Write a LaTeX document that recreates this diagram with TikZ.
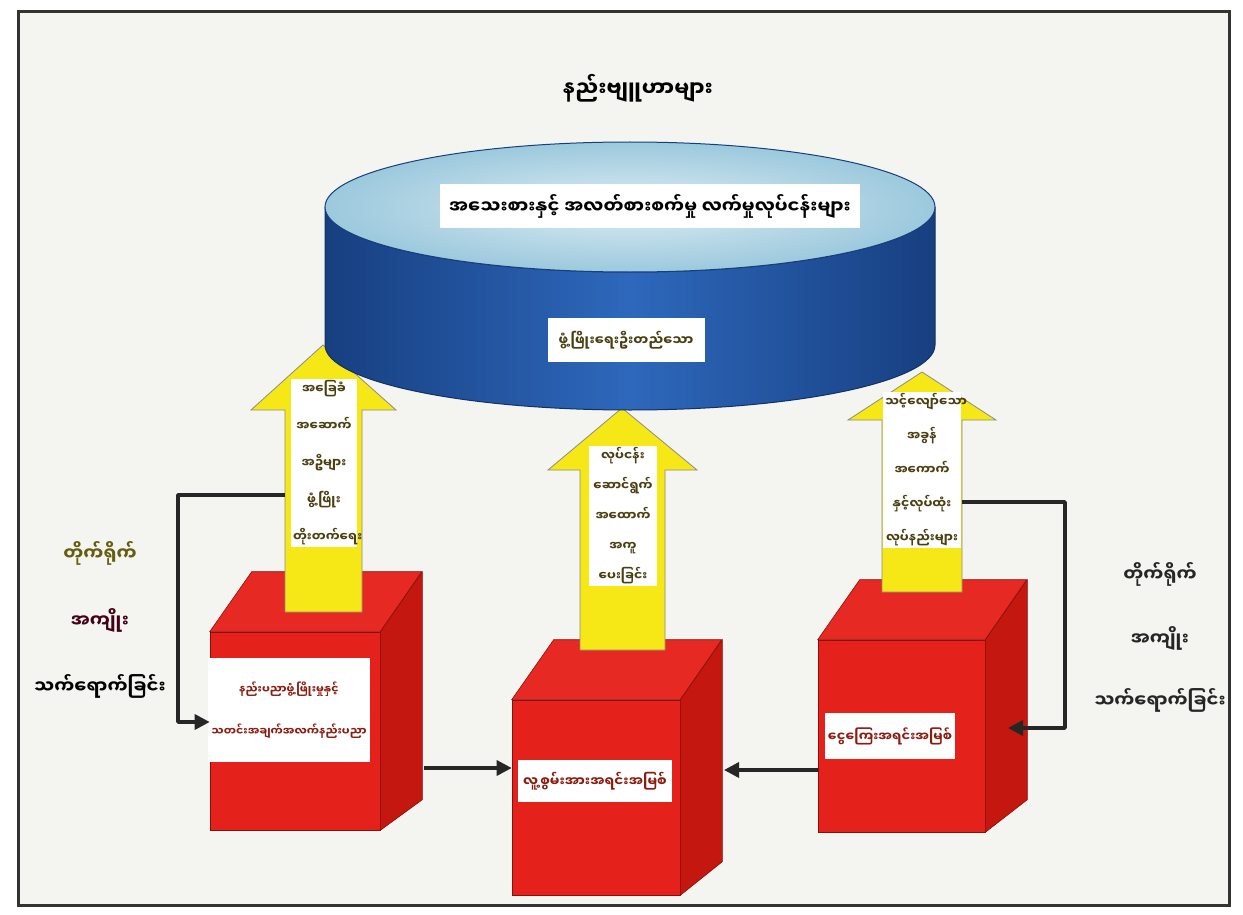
\documentclass[tikz,border=0pt]{standalone}
\usepackage{fontspec}
\newfontfamily\mya[Script=Myanmar]{Noto Sans Myanmar UI}
\usetikzlibrary{arrows.meta}

\definecolor{paper}{HTML}{F4F4F1}
\definecolor{cubered}{HTML}{E5211B}
\definecolor{cubeshade}{HTML}{C4170F}
\definecolor{cubelid}{HTML}{E62A23}
\definecolor{arrowyellow}{HTML}{F6E716}
\definecolor{drumblue}{HTML}{2E68BC}
\definecolor{drumdark}{HTML}{173F80}
\definecolor{drumtop}{HTML}{9CC9DD}
\definecolor{labelred}{HTML}{8A1C10}
\definecolor{olive}{HTML}{4A3F10}

\tikzset{
  cubefront/.style={fill=cubered, draw=cubeshade!70!black, line width=0.6pt, inner sep=0pt},
  cubetop/.style={fill=cubelid, draw=cubeshade!70!black, line width=0.6pt},
  cubeside/.style={fill=cubeshade, draw=cubeshade!70!black, line width=0.6pt},
  boxlabel/.style={fill=white, text=labelred, align=center, inner sep=3pt},
  panel/.style={fill=white, text=olive, align=center, inner sep=2pt},
  uparrow/.style={fill=arrowyellow, draw=black!45, line width=0.8pt},
  link/.style={draw=black!85, line width=3.4pt, line join=round, -{Triangle[length=15pt,width=15pt]}},
  sidelabel/.style={font=\mya\bfseries\fontsize{18}{21}\selectfont},
}

\begin{document}
\begin{tikzpicture}[x=1pt,y=-1pt]
\useasboundingbox (0,0) rectangle (1243,915);
\fill[white] (0,0) rectangle (1243,915);
\draw[draw=black!80, line width=3pt, fill=paper] (18,12) rectangle (1229,905);

% title
\node[font=\mya\bfseries\fontsize{21}{26}\selectfont] (title) at (638,88) {နည်းဗျူဟာများ};

% cubes
\node[cubefront, minimum width=170, minimum height=198] (lcube) at (295,731) {};
\filldraw[cubetop] (lcube.north west) -- ++(42,-60) -- ++(170,0) -- (lcube.north east) -- cycle;
\filldraw[cubeside] (lcube.north east) -- ++(42,-60) -- ++(0,228) -- (lcube.south east) -- cycle;
\node[cubefront, minimum width=168, minimum height=195] (mcube) at (596,797.5) {};
\filldraw[cubetop] (mcube.north west) -- ++(42,-60) -- ++(168,0) -- (mcube.north east) -- cycle;
\filldraw[cubeside] (mcube.north east) -- ++(42,-60) -- ++(0,222) -- (mcube.south east) -- cycle;
\node[cubefront, minimum width=167, minimum height=192] (rcube) at (901.5,736) {};
\filldraw[cubetop] (rcube.north west) -- ++(42,-60) -- ++(167,0) -- (rcube.north east) -- cycle;
\filldraw[cubeside] (rcube.north east) -- ++(42,-60) -- ++(0,220) -- (rcube.south east) -- cycle;

\node[boxlabel, minimum width=122, minimum height=104, font=\mya\bfseries\fontsize{11}{42}\selectfont] (ltext) at (289,710) {နည်းပညာဖွံ့ဖြိုးမှုနှင့်\\သတင်းအချက်အလက်နည်းပညာ};
\node[boxlabel, minimum width=154, minimum height=42, font=\mya\bfseries\fontsize{13.5}{16}\selectfont] (mtext) at (595,781) {လူ့စွမ်းအားအရင်းအမြစ်};
\node[boxlabel, minimum width=129, minimum height=46, font=\mya\bfseries\fontsize{13}{16}\selectfont] (rtext) at (890,736) {ငွေကြေးအရင်းအမြစ်};

% yellow arrows
\filldraw[uparrow] (285,612) -- (285,410) -- (251,410) -- (323,345) -- (396,410) -- (362,410) -- (362,612) -- cycle;
\node[panel, text width=62, font=\mya\bfseries\fontsize{12.5}{37}\selectfont] (lpanel) at (324,463) {အခြေခံ\\အဆောက်\\အဦများ\\ဖွံ့ဖြိုး\\တိုးတက်ရေး};
\filldraw[uparrow] (580,650) -- (580,470) -- (548,470) -- (622,408) -- (697,470) -- (665,470) -- (665,650) -- cycle;
\node[panel, text width=64, font=\mya\bfseries\fontsize{12.5}{30}\selectfont] (mpanel) at (623,516) {လုပ်ငန်း\\ဆောင်ရွက်\\အထောက်\\အကူ\\ပေးခြင်း};
\filldraw[uparrow] (882,592) -- (882,420) -- (848,420) -- (922,372) -- (996,420) -- (962,420) -- (962,592) -- cycle;
\node[panel, text width=74, font=\mya\bfseries\fontsize{12.5}{34}\selectfont] (rpanel) at (922,470) {သင့်လျော်သော\\အခွန်\\အကောက်\\နှင့်လုပ်ထုံး\\လုပ်နည်းများ};

% drum
\shade[left color=drumdark, right color=drumdark, middle color=drumblue, draw=drumdark!80!black, line width=1pt] (325,207) -- (325,345) arc[start angle=180, end angle=0, x radius=305, y radius=65] -- (935,207) arc[start angle=0, end angle=180, x radius=305, y radius=65] -- cycle;
\shade[inner color=drumtop!35!white, outer color=drumtop, draw=drumdark, line width=1pt] (630,207) ellipse[x radius=305, y radius=65];
\node[fill=white, minimum width=420, minimum height=44, font=\mya\bfseries\fontsize{18}{22}\selectfont] (toptext) at (650,206) {အသေးစားနှင့် အလတ်စားစက်မှု လက်မှုလုပ်ငန်းများ};
\node[fill=white, minimum width=157, minimum height=44, text=olive, font=\mya\bfseries\fontsize{13.5}{16}\selectfont] (sidetext) at (626,340) {ဖွံ့ဖြိုးရေးဦးတည်သော};

% side texts
\node[sidelabel, text=olive!85!yellow] (ldirect) at (100,553) {တိုက်ရိုက်};
\node[sidelabel, text=purple!35!black] (lbenefit) at (100,620) {အကျိုး};
\node[sidelabel] (laffect) at (100,686) {သက်ရောက်ခြင်း};
\node[sidelabel, text=black!85] (rdirect) at (1160,574) {တိုက်ရိုက်};
\node[sidelabel, text=black!85] (rbenefit) at (1160,638) {အကျိုး};
\node[sidelabel, text=black!85] (raffect) at (1160,700) {သက်ရောက်ခြင်း};

% connectors
\coordinate (lstem) at (285,495);
\coordinate (lbend1) at (178,495);
\coordinate (lbend2) at (178,722);
\draw[link] (lstem) -- (lbend1) -- (lbend2) -- (lcube.west |- lbend2);
\coordinate (rstem) at (962,502);
\coordinate (rbend1) at (1065,502);
\coordinate (rbend2) at (1065,728);
\coordinate (rside) at (1008,728);
\draw[link] (rstem) -- (rbend1) -- (rbend2) -- (rside);
\coordinate (lside) at (424,768);
\draw[link] (lside) -- (mcube.west |- lside);
\coordinate (mside) at (724,770);
\draw[link] (rcube.west |- mside) -- (mside);
\end{tikzpicture}
\end{document}
